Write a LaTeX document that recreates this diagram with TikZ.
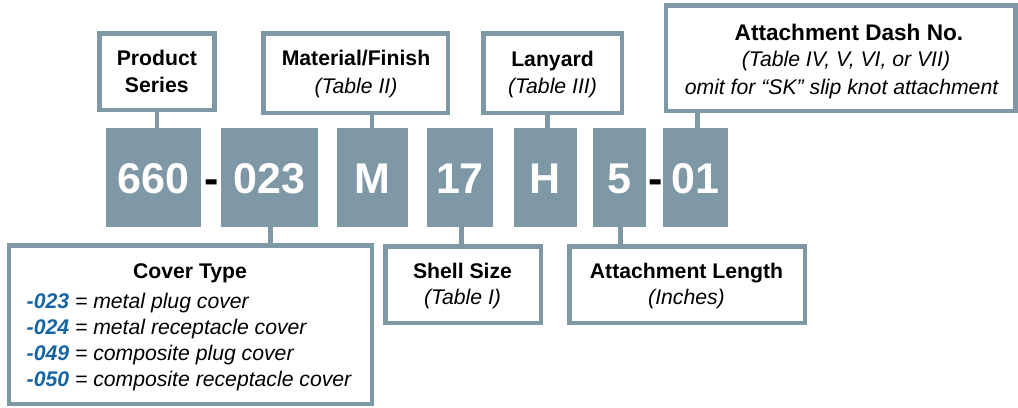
\documentclass[tikz,border=0pt]{standalone}
\usepackage{fontspec}
\setmainfont{Liberation Sans}
\definecolor{slate}{HTML}{7F98A5}
\definecolor{codeblue}{HTML}{1565A5}
\begin{document}
\begin{tikzpicture}[x=1bp,y=-1bp,
  lbl/.style={draw=slate, line width=4.5bp, fill=white, inner sep=0pt, rectangle},
  code/.style={fill=slate, inner sep=0pt, text=white, minimum height=99bp,
    font=\fontsize{43bp}{46bp}\selectfont\bfseries, text height=31bp, text depth=0pt},
  hd/.style={anchor=base, inner sep=0pt, font=\fontsize{21.2bp}{26bp}\selectfont\bfseries},
  ital/.style={anchor=base, inner sep=0pt, font=\fontsize{21.2bp}{26bp}\selectfont\itshape},
  item/.style={anchor=base west, inner sep=0pt, font=\fontsize{21.2bp}{26bp}\selectfont\itshape},
  sepdash/.style={anchor=base, inner sep=0pt, font=\fontsize{43bp}{46bp}\selectfont\bfseries},
  conn/.style={draw=slate, line width=4.5bp}
]
\useasboundingbox (0,0) rectangle (1018,407);

% label boxes (top)
\node[lbl, minimum width=115.2bp, minimum height=76.5bp] (ps) at (156.85,71.5) {};
\node[lbl, minimum width=184.5bp, minimum height=79.5bp] (mf) at (355.5,73) {};
\node[lbl, minimum width=138.5bp, minimum height=79.5bp] (ly) at (552.5,73) {};
\node[lbl, minimum width=349.5bp, minimum height=105.5bp] (ad) at (840.5,58.3) {};
% label boxes (bottom)
\node[lbl, minimum width=362.5bp, minimum height=158.5bp] (ct) at (190.5,324.5) {};
\node[lbl, minimum width=155.5bp, minimum height=76.5bp] (ss) at (463,284.5) {};
\node[lbl, minimum width=235.5bp, minimum height=76.5bp] (al) at (687,284.5) {};

% code boxes
\node[code, minimum width=95bp] (c660) at (153.5,177.5) {660};
\node[code, minimum width=97bp] (c023) at (269.5,177.5) {023};
\node[code, minimum width=71bp] (cM) at (372.5,177.5) {M};
\node[code, minimum width=65.4bp] (c17) at (460,177.5) {17};
\node[code, minimum width=62.4bp] (cH) at (545.5,177.5) {H};
\node[code, minimum width=53bp] (c5) at (619.5,177.5) {5};
\node[code, minimum width=64.5bp] (c01) at (695.25,177.5) {01};
\node[sepdash] (dash1) at (212,193) {-};
\node[sepdash] (dash2) at (655.5,193) {-};

% connectors
\draw[conn] (ps.south) -- (ps.south |- c660.north);
\draw[conn] ([xshift=-0.5bp]cM.north) -- ([xshift=-0.5bp]cM.north |- mf.south);
\draw[conn] ([xshift=2bp]cH.north) -- ([xshift=2bp]cH.north |- ly.south);
\draw[conn] ([xshift=2.25bp]c01.north) -- ([xshift=2.25bp]c01.north |- ad.south);
\draw[conn] ([xshift=1bp]c023.south) -- ([xshift=1bp]c023.south |- ct.north);
\draw[conn] ([xshift=1.5bp]c17.south) -- ([xshift=1.5bp]c17.south |- ss.north);
\draw[conn] ([xshift=1bp]c5.south) -- ([xshift=1bp]c5.south |- al.north);

% texts top
\node[hd] (ps1) at (156.8,65.8) {Product};
\node[hd] (ps2) at (156.8,92.5) {Series};
\node[hd] (mf1) at (356,65.8) {Material/Finish};
\node[ital] (mf2) at (356,93.5) {(Table II)};
\node[hd] (ly1) at (552.5,66) {Lanyard};
\node[ital] (ly2) at (552.5,93.5) {(Table III)};
\node[hd, font=\fontsize{22.6bp}{26bp}\selectfont\bfseries] (ad1) at (849,40) {Attachment Dash No.};
\node[ital] (ad2) at (846,66.5) {(Table IV, V, VI, or VII)};
\node[ital] (ad3) at (841.5,94) {omit for “SK” slip knot attachment};
% texts bottom
\node[hd] (ct0) at (190,278.3) {Cover Type};
\node[item] (ct1) at (26.5,308.3) {{\bfseries\color{codeblue}-023} = metal plug cover};
\node[item] (ct2) at (26.5,334.5) {{\bfseries\color{codeblue}-024} = metal receptacle cover};
\node[item] (ct3) at (26.5,360.5) {{\bfseries\color{codeblue}-049} = composite plug cover};
\node[item] (ct4) at (26.5,386.8) {{\bfseries\color{codeblue}-050} = composite receptacle cover};
\node[hd] (ss1) at (462.5,278) {Shell Size};
\node[ital] (ss2) at (462.5,304) {(Table I)};
\node[hd] (al1) at (686.5,278) {Attachment Length};
\node[ital] (al2) at (686.5,304) {(Inches)};
\end{tikzpicture}
\end{document}
